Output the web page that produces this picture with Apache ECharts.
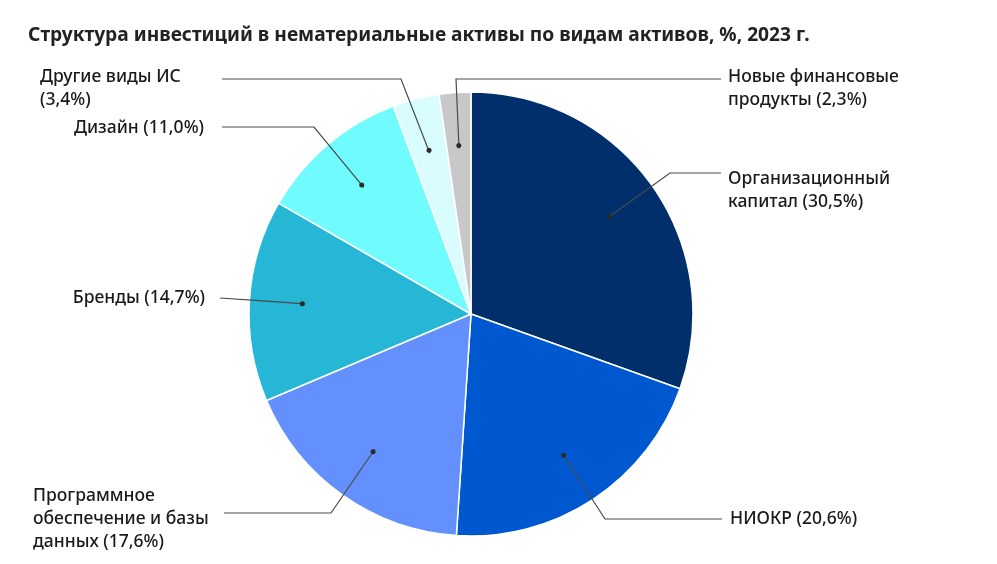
<!DOCTYPE html>
<html>
<head>
<meta charset="utf-8">
<script src="https://cdn.jsdelivr.net/npm/echarts@6/dist/echarts.min.js"></script>
<style>
html,body{margin:0;padding:0;background:#fff;}
#chart{width:997px;height:564px;}
</style>
</head>
<body>
<div id="chart"></div>
<script>
// ---- data ----
var titleText = 'Структура инвестиций в нематериальные активы по видам активов, %, 2023 г.';
var categories = [
  'Организационный\nкапитал',
  'НИОКР',
  'Программное\nобеспечение и базы\nданных',
  'Бренды',
  'Дизайн',
  'Другие виды ИС\n',
  'Новые финансовые\nпродукты'
];
var values = [30.5, 20.6, 17.6, 14.7, 11.0, 3.4, 2.3];
var colors = ['#002f6b', '#0058d0', '#6390fc', '#26b7d6', '#70fcfe', '#d9fdff', '#c8c8c8'];

// ---- layout (label placement only) ----
var CX = 471, CY = 314, R = 222, R_DOT = 166;
var labelPlace = [
  {x: 728, y: 168, align: 'left',  va: 'top',    bend: [670, 173], end: [721, 173]},
  {x: 730, y: 519, align: 'left',  va: 'middle', bend: [605, 519], end: [722, 519]},
  {x: 33,  y: 485, align: 'left',  va: 'top',    bend: [331, 513], end: [224, 513]},
  {x: 205, y: 298, align: 'right', va: 'middle', bend: null,       end: [220, 298]},
  {x: 204, y: 128, align: 'right', va: 'middle', bend: [314, 127], end: [222, 127]},
  {x: 40,  y: 66,  align: 'left',  va: 'top',    bend: [401, 79],  end: [222, 79]},
  {x: 728, y: 66,  align: 'left',  va: 'top',    bend: [456, 79],  end: [721, 79]}
];

function fmtPct(v){ return '(' + v.toFixed(1).replace('.', ',') + '%)'; }

var total = values.reduce(function(a,b){return a+b;}, 0);
function dotPoint(i){
  var cum = 0;
  for (var k = 0; k < i; k++) cum += values[k];
  var mid = (cum + values[i] / 2) / total * Math.PI * 2; // clockwise from top
  return [CX + R_DOT * Math.sin(mid), CY - R_DOT * Math.cos(mid)];
}

var labelTexts = categories.map(function(c, i){
  return c.slice(-1) === '\n' ? c + fmtPct(values[i]) : c + ' ' + fmtPct(values[i]);
});

var baseSeries = {
  type: 'pie',
  center: [CX, CY],
  startAngle: 90,
  clockwise: true,
  avoidLabelOverlap: false,
  silent: true
};

var chart = echarts.init(document.getElementById('chart'));
chart.setOption({
  backgroundColor: '#ffffff',
  animation: false,
  title: {
    text: titleText,
    left: 23,
    top: 21,
    textStyle: {fontFamily: 'Noto Sans', fontSize: 19.2, fontWeight: 'bold', color: '#222222'}
  },
  series: [
    Object.assign({}, baseSeries, {
      z: 2,
      radius: [0, R],
      itemStyle: {borderColor: '#ffffff', borderWidth: 1.5},
      data: values.map(function(v, i){ return {name: categories[i], value: v, itemStyle: {color: colors[i]}}; }),
      label: {show: false},
      labelLine: {show: false}
    }),
    Object.assign({}, baseSeries, {
      z: 3,
      radius: [0, R],
      itemStyle: {color: 'rgba(0,0,0,0)', borderWidth: 0},
      emphasis: {disabled: true},
      data: values.map(function(v, i){ return {name: categories[i], value: v}; }),
      label: {
        show: true,
        position: 'outside',
        formatter: function(p){ return labelTexts[p.dataIndex]; },
        fontFamily: 'Noto Sans',
        fontSize: 17.5,
        fontWeight: 500,
        lineHeight: 23,
        color: '#1a1a1a'
      },
      labelLine: {
        show: true,
        lineStyle: {color: '#4a4a4a', width: 1.2}
      },
      labelLayout: function(params){
        var i = params.dataIndex;
        var lp = labelPlace[i];
        var d = dotPoint(i);
        var pts;
        if (lp.bend) pts = [d, lp.bend, lp.end];
        else pts = [d, [(d[0] + lp.end[0]) / 2, (d[1] + lp.end[1]) / 2], lp.end];
        return {x: lp.x, y: lp.y, align: lp.align, verticalAlign: lp.va, labelLinePoints: pts};
      }
    }),
    Object.assign({}, baseSeries, {
      z: 4,
      radius: [R_DOT - 56, R_DOT + 56],
      itemStyle: {color: 'rgba(0,0,0,0)', borderWidth: 0},
      emphasis: {disabled: true},
      data: values.map(function(v, i){ return {name: categories[i], value: v}; }),
      label: {
        show: true,
        position: 'inside',
        formatter: '{d|}',
        rich: {
          d: {width: 5, height: 5, borderRadius: 2.5, backgroundColor: '#2b2b2b'}
        }
      },
      labelLine: {show: false}
    })
  ]
});
</script>
</body>
</html>
